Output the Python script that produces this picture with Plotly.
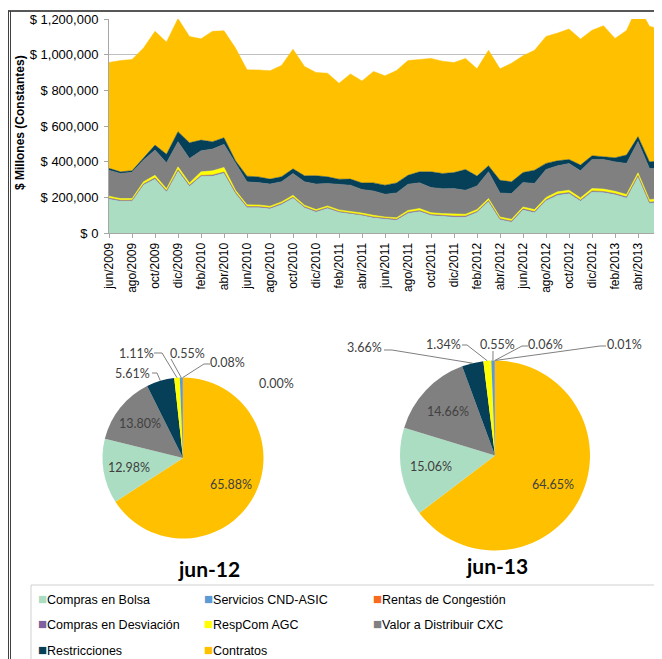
import math
import plotly.graph_objects as go

W, H = 662, 659
OFF = 8  # the page body adds an 8px margin around the figure

months = [
    "jun/2009", "jul/2009", "ago/2009", "sep/2009", "oct/2009", "nov/2009", "dic/2009",
    "ene/2010", "feb/2010", "mar/2010", "abr/2010", "may/2010", "jun/2010", "jul/2010",
    "ago/2010", "sep/2010", "oct/2010", "nov/2010", "dic/2010", "ene/2011", "feb/2011",
    "mar/2011", "abr/2011", "may/2011", "jun/2011", "jul/2011", "ago/2011", "sep/2011",
    "oct/2011", "nov/2011", "dic/2011", "ene/2012", "feb/2012", "mar/2012", "abr/2012",
    "may/2012", "jun/2012", "jul/2012", "ago/2012", "sep/2012", "oct/2012", "nov/2012",
    "dic/2012", "ene/2013", "feb/2013", "mar/2013", "abr/2013", "may/2013", "jun/2013",
]

# $ Millones (constantes)
compras_bolsa = [189900, 177900, 177800, 268500, 301900, 230300, 347500, 261100, 316200, 317900,
                 334900, 221500, 142300, 142300, 135300, 159100, 194500, 141200, 117300, 137400,
                 115700, 107400, 97600, 84300, 76500, 71300, 109900, 119900, 97800, 92900,
                 88900, 88800, 115200, 175600, 74200, 61100, 129000, 113600, 180100, 210900,
                 219800, 178200, 228900, 225700, 214200, 195900, 315000, 165700, 172300]
servicios_cnd = [5300, 5300, 5400, 5700, 6200, 5900, 6600, 6100, 6000, 6200,
                 6200, 5700, 5000, 5000, 5000, 5200, 5700, 5100, 5000, 4900,
                 4600, 4900, 4700, 5000, 4800, 5000, 5300, 5300, 5400, 5300,
                 5300, 5400, 5100, 5600, 5100, 5200, 5470, 5600, 6100, 6200,
                 6300, 6000, 6200, 6400, 6000, 6200, 7000, 6400, 6290]
rentas_congestion = [120, 90, 150, 60, 210, 180, 90, 130, 70, 250,
                     160, 110, 40, 80, 60, 150, 90, 50, 70, 100,
                     60, 30, 90, 120, 40, 60, 150, 80, 50, 90,
                     110, 70, 40, 130, 60, 30, 20, 50, 90, 120,
                     60, 80, 110, 70, 40, 90, 150, 60, 115]
compras_desviacion = [700, 650, 720, 760, 820, 740, 880, 760, 730, 790,
                      810, 700, 610, 600, 590, 640, 700, 620, 580, 590,
                      560, 600, 570, 630, 590, 620, 680, 660, 690, 650,
                      640, 660, 610, 720, 620, 640, 795, 700, 760, 780,
                      800, 740, 790, 810, 730, 770, 880, 790, 690]
respcom_agc = [10400, 9100, 8800, 12300, 14800, 11700, 16200, 12900, 19800, 23600,
               25900, 12100, 9800, 9600, 9200, 9400, 10900, 9100, 8300, 8900,
               8700, 9200, 8800, 9000, 8200, 8700, 10800, 11300, 10100, 9800,
               9900, 10200, 10300, 11400, 9700, 10100, 11030, 11200, 12300, 12800,
               13100, 12200, 13300, 13400, 12900, 13200, 14500, 13800, 15330]
valor_cxc = [146000, 141000, 148000, 122000, 141000, 145000, 141000, 137000, 118000, 122000,
             129000, 150000, 129000, 125000, 124000, 113000, 122000, 131000, 143000, 126000,
             144000, 146000, 132000, 137000, 127000, 139000, 147000, 144000, 141000, 140000,
             144000, 135000, 133000, 150000, 135000, 144000, 137200, 147000, 157000, 146000,
             150000, 152000, 163000, 166000, 165000, 174000, 175000, 175000, 167700]
restricciones = [10000, 9000, 8000, 9000, 28000, 48000, 56000, 88000, 60000, 41000,
                 37000, 15000, 32000, 32000, 28000, 28000, 26000, 34000, 47000, 37000,
                 28000, 34000, 37000, 45000, 51000, 56000, 50000, 62000, 88000, 85000,
                 90000, 116000, 55000, 34000, 71000, 66000, 55800, 74000, 34000, 28000,
                 22000, 32000, 21000, 15000, 23000, 47000, 28000, 37000, 41900]
contratos = [594000, 624000, 624000, 619000, 638000, 629000, 634000, 596000, 568000, 619000,
             600000, 632000, 596000, 600000, 607000, 624000, 671000, 613000, 579000, 581000,
             538000, 590000, 572000, 625000, 613000, 630000, 643000, 628000, 636000, 630000,
             617000, 623000, 602000, 647000, 625000, 665000, 654800, 672000, 712000, 716000,
             732000, 706000, 703000, 735000, 669000, 699000, 735000, 760000, 739600]

series_names = ["Compras en Bolsa", "Servicios CND-ASIC", "Rentas de Congestión",
                "Compras en Desviación", "RespCom AGC", "Valor a Distribuir CXC",
                "Restricciones", "Contratos"]
series_vals = [compras_bolsa, servicios_cnd, rentas_congestion, compras_desviacion,
               respcom_agc, valor_cxc, restricciones, contratos]

colors = {
    "Compras en Bolsa": "#ABDDC3",
    "Servicios CND-ASIC": "#5B9BD5",
    "Rentas de Congestión": "#F86A1E",
    "Compras en Desviación": "#7F62A0",
    "RespCom AGC": "#FFFF00",
    "Valor a Distribuir CXC": "#808080",
    "Restricciones": "#053F58",
    "Contratos": "#FFC000",
}

# participacion (%) en cada mes, orden de las tortas
pie_labels = ["Contratos", "Compras en Bolsa", "Valor a Distribuir CXC", "Restricciones",
              "RespCom AGC", "Servicios CND-ASIC", "Compras en Desviación", "Rentas de Congestión"]
pie_jun12 = [65.88, 12.98, 13.80, 5.61, 1.11, 0.55, 0.08, 0.00]
pie_jun13 = [64.65, 15.06, 14.66, 3.66, 1.34, 0.55, 0.06, 0.01]


def px(x):
    return (x - OFF) / W


def py(y):
    return 1 - (y - OFF) / H


def note(x, y, text, font, **kw):
    d = dict(x=px(x), y=py(y), xref="paper", yref="paper", text=text, showarrow=False,
             xanchor="center", yanchor="middle", font=font)
    d.update(kw)
    return d


fig = go.Figure()

for name, vals in zip(series_names, series_vals):
    fig.add_trace(go.Scatter(x=months, y=vals, name=name, mode="lines", stackgroup="one",
                             line=dict(width=0.5, color=colors[name]),
                             fillcolor=colors[name], showlegend=False))

# pies: (values, center x, center y, radius, title, title pos, outside labels)
pies = [
    (pie_jun12, 183, 458, 80.5, "jun-12", (209, 568), {
        3: ((132, 373), [(152, 373), (157, 373)]),
        4: ((136, 353), [(154, 353), (162, 353)]),
        5: ((187, 353), [(171, 359)]),
        6: ((227, 362), [(210, 364), (204, 364)]),
        7: ((276, 383), None),
    }),
    (pie_jun13, 495, 455.5, 95, "jun-13", (497, 565), {
        3: ((364, 347), [(384, 350), (392, 350)]),
        4: ((443, 344), [(462, 345), (467, 345)]),
        5: ((497, 344), [(493, 351)]),
        6: ((545, 344), [(528, 346), (522, 346)]),
        7: ((624, 344), [(606, 346), (600, 346)]),
    }),
]

annotations = []
shapes = []
lbl_font = dict(family="Lato, Open Sans, sans-serif", size=12.5, color="#404040")

for vals, cx, cy, r, title, tpos, outside in pies:
    fig.add_trace(go.Pie(labels=pie_labels, values=vals, sort=False, direction="clockwise",
                         rotation=0, textinfo="none", showlegend=False,
                         marker=dict(colors=[colors[l] for l in pie_labels], line=dict(width=0)),
                         domain=dict(x=[px(cx - r), px(cx + r)], y=[py(cy + r), py(cy - r)])))
    total = sum(vals)
    cum = 0
    for k, v in enumerate(vals):
        ang = 2 * math.pi * (cum + v / 2) / total
        cum += v
        txt = f"{v:.2f}%"
        if k < 3:
            lx = cx + 0.68 * r * math.sin(ang)
            ly = cy - 0.68 * r * math.cos(ang)
            annotations.append(note(lx, ly, txt, lbl_font))
        else:
            (tx, ty), line = outside[k]
            annotations.append(note(tx, ty, txt, lbl_font))
            if line:
                ex = cx + r * math.sin(ang)
                ey = cy - r * math.cos(ang)
                pts = line + [(ex, ey)]
                path = "M " + " L ".join(f"{px(a):.5f},{py(b):.5f}" for a, b in pts)
                shapes.append(dict(type="path", path=path, xref="paper", yref="paper",
                                   line=dict(color="#7F7F7F", width=1)))
    annotations.append(note(tpos[0], tpos[1], f"<b>{title}</b>",
                            dict(family="Lato, Open Sans, sans-serif", size=21, color="#000000")))

# y axis title
annotations.append(note(20, 123, "<b>$ Millones (Constantes)</b>",
                        dict(family="Liberation Sans, Arial", size=12, color="#000000"),
                        textangle=-90))

# legend box
legend_cols = [36, 202, 371]
legend_rows = [598, 623, 649]
for i, name in enumerate(series_names):
    xx = legend_cols[i % 3]
    yy = legend_rows[i // 3]
    annotations.append(note(xx, yy, f'<span style="color:{colors[name]};font-size:15px">■</span>{name}',
                            dict(family="Liberation Sans, Arial", size=12.5, color="#000000"),
                            xanchor="left"))

shapes.append(dict(type="rect", xref="paper", yref="paper", x0=px(31), y0=-0.05, x1=1.05, y1=py(585),
                   line=dict(color="#D0D0D0", width=1)))
# outer frame
shapes.append(dict(type="line", xref="paper", yref="paper", x0=px(8), x1=1.01, y0=py(11), y1=py(11),
                   line=dict(color="#202020", width=1.5)))
for xl in (8.5, 10.5):
    shapes.append(dict(type="line", xref="paper", yref="paper", x0=px(xl), x1=px(xl), y0=py(11), y1=-0.01,
                       line=dict(color="#404040", width=1)))

fig.update_layout(
    width=W, height=H,
    margin=dict(l=0, r=0, t=0, b=0, autoexpand=False),
    paper_bgcolor="white", plot_bgcolor="white",
    font=dict(family="Liberation Sans, Arial", color="#000000"),
    showlegend=False,
    annotations=annotations,
    shapes=shapes,
    xaxis=dict(domain=[px(109), px(661)], type="category", range=[0, len(months) - 1],
               automargin=False,
               tickmode="array", tickvals=months[::2], ticktext=months[::2], tickangle=-90,
               ticks="outside", ticklen=4, tickcolor="#A6A6A6",
               showline=True, linecolor="#A6A6A6", showgrid=False,
               tickfont=dict(size=12, color="#000000")),
    yaxis=dict(domain=[py(233), py(19)], range=[0, 1200000], dtick=200000,
               automargin=False, ticklabelstandoff=3,
               tickprefix="$ ", tickformat=",d", ticks="outside", ticklen=4, tickcolor="#A6A6A6",
               showline=True, linecolor="#A6A6A6", showgrid=True, gridcolor="#BFBFBF",
               zeroline=False, tickfont=dict(size=13, color="#000000")),
)

fig.write_html("out.html")
